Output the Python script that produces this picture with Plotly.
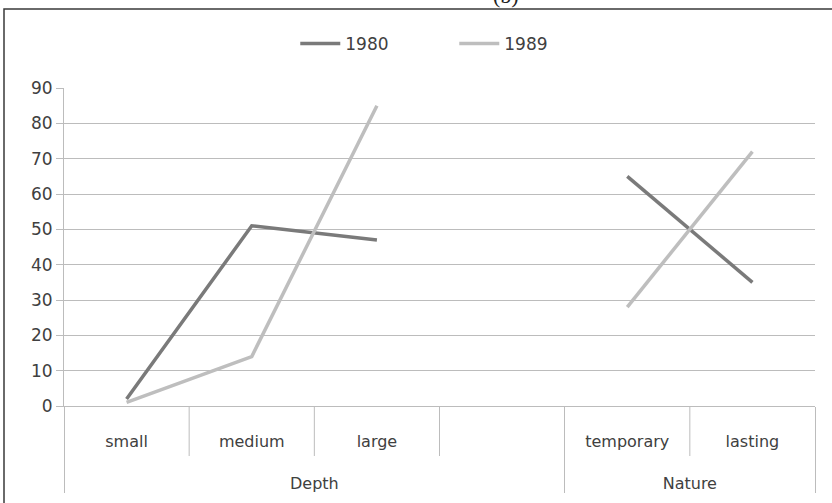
import plotly.graph_objects as go

groups = ["Depth", "Depth", "Depth", "Depth", "Nature", "Nature"]
categories = ["small", "medium", "large", " ", "temporary", "lasting"]
v1980 = [2, 51, 47, None, 65, 35]
v1989 = [1, 14, 85, None, 28, 72]
y_ticks = [0, 10, 20, 30, 40, 50, 60, 70, 80, 90]

FONT = "DejaVu Sans"
TXT = "#404040"
GRID = "#bcbcbc"
FS = 17

# labels pushed down to match the reference spacing
group_labels = ["<br><br>" + g for g in groups]
cat_labels = ["<br>" + c for c in categories]

fig = go.Figure()
fig.add_trace(go.Scatter(x=[group_labels, cat_labels], y=v1980, name="1980", mode="lines",
                         line=dict(color="#7a7a7a", width=3.5), connectgaps=False))
fig.add_trace(go.Scatter(x=[group_labels, cat_labels], y=v1989, name="1989", mode="lines",
                         line=dict(color="#bebebe", width=3.5), connectgaps=False))

n = len(categories)
plot_h = 318
# short separators between inner categories
for k in range(1, n):
    if groups[k] == groups[k - 1]:
        fig.add_shape(type="line", xref="paper", yref="paper", x0=k / n, x1=k / n,
                      y0=0, y1=-50 / plot_h, line=dict(color=GRID, width=1))

# outer frame
fig.add_shape(type="rect", xref="paper", yref="paper",
              x0=(4 - 64) / 751, x1=(840 - 64) / 751,
              y0=(406 - 520) / plot_h, y1=(406 - 9) / plot_h,
              line=dict(color="#3a3a3a", width=1.5), layer="above")

fig.add_annotation(text="(b)", xref="paper", yref="paper", x=(506 - 64) / 751,
                   y=(406 - 10) / plot_h, yanchor="bottom", showarrow=False,
                   font=dict(family="Liberation Serif", size=22, color="#222"))

fig.update_layout(
    width=832, height=503,
    margin=dict(l=64, r=17, t=88, b=97, autoexpand=False),
    paper_bgcolor="white", plot_bgcolor="white",
    font=dict(family=FONT, size=FS, color=TXT),
    showlegend=True,
    legend=dict(orientation="h", xref="container", yref="container",
                x=0.546, xanchor="center", y=1 - 44 / 503, yanchor="middle",
                font=dict(size=FS, color=TXT), entrywidth=104, itemwidth=40),
    xaxis=dict(type="multicategory", range=[-0.5, n - 0.5], showgrid=False,
               showline=True, linecolor=GRID, automargin=False,
               linewidth=1, ticks="",
               showdividers=True, dividercolor=GRID,
               dividerwidth=1,
               tickfont=dict(size=16, color=TXT)),
    yaxis=dict(range=[0, 90], tickvals=y_ticks, showgrid=True, gridcolor=GRID,
               gridwidth=1, showline=True, linecolor=GRID, ticks="outside",
               ticklen=7, tickcolor=GRID, zeroline=False, automargin=False,
               tickfont=dict(size=FS, color=TXT)),
)

fig.write_html("out.html")
